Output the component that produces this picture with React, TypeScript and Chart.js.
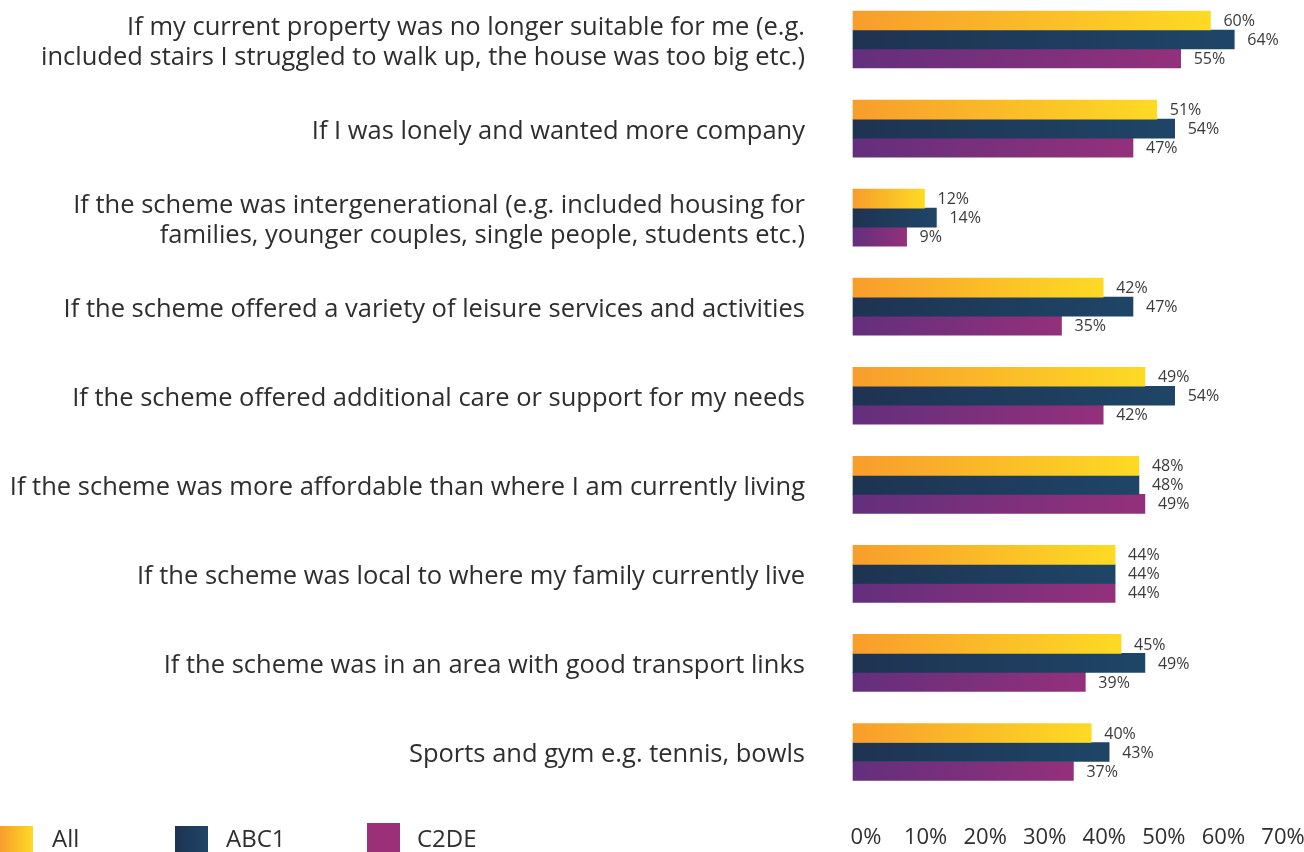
import React, { useEffect, useRef } from "react";
import { Chart, registerables } from "chart.js";

Chart.register(...registerables);

const categories: (string | string[])[] = [
  ["If my current property was no longer suitable for me (e.g.", "included stairs I struggled to walk up, the house was too big etc.)"],
  "If I was lonely and wanted more company",
  ["If the scheme was intergenerational (e.g. included housing for", "families, younger couples, single people, students etc.)"],
  "If the scheme offered a variety of leisure services and activities",
  "If the scheme offered additional care or support for my needs",
  "If the scheme was more affordable than where I am currently living",
  "If the scheme was local to where my family currently live",
  "If the scheme was in an area with good transport links",
  "Sports and gym e.g. tennis, bowls",
];

const seriesNames = ["All", "ABC1", "C2DE"];
const allValues = [60, 51, 12, 42, 49, 48, 44, 45, 40];
const abc1Values = [64, 54, 14, 47, 54, 48, 44, 49, 43];
const c2deValues = [55, 47, 9, 35, 42, 49, 44, 39, 37];
const xTickValues = [0, 10, 20, 30, 40, 50, 60, 70];

const FONT = "'Open Sans', 'DejaVu Sans', sans-serif";
const TEXT = "#2e2e2e";

const gradStops: string[][] = [
  ["#F89D2C", "#FDDA24"],
  ["#1F3352", "#1E4567"],
  ["#632F7C", "#94307B"],
];

const makeBg = (stops: string[]) => (ctx: any) => {
  const chart = ctx.chart;
  if (!chart.chartArea || ctx.type !== "data" || !ctx.parsed) return stops[1];
  const xs = chart.scales.x;
  const x0 = xs.getPixelForValue(0);
  const x1 = Math.max(xs.getPixelForValue(ctx.parsed.x), x0 + 1);
  const g = chart.ctx.createLinearGradient(x0, 0, x1, 0);
  g.addColorStop(0, stops[0]);
  g.addColorStop(1, stops[1]);
  return g;
};

const valueLabels = {
  id: "valueLabels",
  afterDatasetsDraw(chart: any) {
    const ctx = chart.ctx;
    ctx.save();
    ctx.font = `16px ${FONT}`;
    ctx.fillStyle = "#3a3a3a";
    ctx.textAlign = "left";
    ctx.textBaseline = "middle";
    chart.data.datasets.forEach((ds: any, di: number) => {
      const meta = chart.getDatasetMeta(di);
      meta.data.forEach((el: any, i: number) => {
        ctx.fillText(`${ds.data[i]}%`, el.x + 13, el.y + 1);
      });
    });
    ctx.restore();
  },
};

const customLegend = {
  id: "customLegend",
  afterDraw(chart: any) {
    const ctx = chart.ctx;
    const items = [
      { x: 0, text: 52, top: 826 },
      { x: 175, text: 226, top: 826 },
      { x: 367, text: 417, top: 823 },
    ];
    ctx.save();
    items.forEach((it, i) => {
      const stops = gradStops[i];
      if (i === 2) {
        ctx.fillStyle = "#9B3079";
      } else {
        const g = ctx.createLinearGradient(it.x, 0, it.x + 33, 0);
        g.addColorStop(0, stops[0]);
        g.addColorStop(1, stops[1]);
        ctx.fillStyle = g;
      }
      ctx.fillRect(it.x, it.top, 33, 852 - it.top);
      ctx.fillStyle = TEXT;
      ctx.font = `24px ${FONT}`;
      ctx.textAlign = "left";
      ctx.textBaseline = "middle";
      ctx.fillText(seriesNames[i], it.text, 840);
    });
    ctx.restore();
  },
};

export default function App() {
  const ref = useRef<HTMLCanvasElement | null>(null);
  useEffect(() => {
    if (!ref.current) return;
    const values = [allValues, abc1Values, c2deValues];
    const chart = new Chart(ref.current, {
      type: "bar",
      data: {
        labels: categories as any,
        datasets: seriesNames.map((name, i) => ({
          label: name,
          data: values[i],
          backgroundColor: makeBg(gradStops[i]) as any,
          borderWidth: 0,
          barThickness: 19,
          clip: false as any,
        })),
      },
      options: {
        indexAxis: "y",
        responsive: false,
        animation: false,
        layout: { padding: { top: 39.5, right: 34, left: 0, bottom: 0 } },
        plugins: {
          legend: { display: false },
          tooltip: { enabled: false },
        },
        scales: {
          y: {
            type: "category",
            offset: false,
            grid: { display: false, drawTicks: false },
            border: { display: false },
            ticks: {
              autoSkip: false,
              padding: 48,
              labelOffset: 3,
              color: TEXT,
              font: { family: FONT, size: 25.5, lineHeight: 1.18 },
            },
            afterFit: (scale: any) => {
              scale.width = 853;
              scale.paddingTop = 0;
              scale.paddingBottom = 0;
            },
          },
          x: {
            type: "linear",
            min: 0,
            max: 70,
            grid: { display: false, drawTicks: false },
            border: { display: false },
            ticks: {
              stepSize: 10,
              padding: 73,
              labelOffset: 13,
              color: TEXT,
              font: { family: FONT, size: 22 },
              callback: (v: any) => (xTickValues.includes(Number(v)) ? `${v}%` : ""),
            },
            afterFit: (scale: any) => {
              scale.height = 100;
              scale.paddingLeft = 0;
              scale.paddingRight = 0;
            },
          },
        },
      },
      plugins: [valueLabels, customLegend],
    });
    return () => chart.destroy();
  }, []);
  return (
    <canvas
      ref={ref}
      width={1304}
      height={852}
      style={{ position: "fixed", left: 0, top: 0, display: "block", background: "#fff" }}
    />
  );
}
